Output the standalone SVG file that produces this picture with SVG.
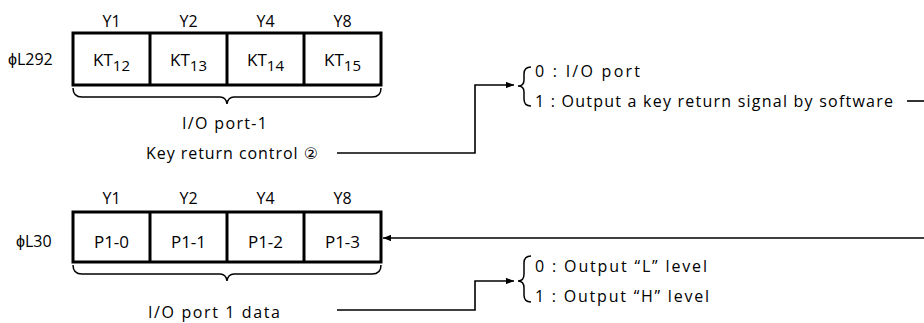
<svg xmlns="http://www.w3.org/2000/svg" width="924" height="323" viewBox="0 0 924 323">
<defs>
<style>
text{font-family:"Open Sans","Liberation Sans","DejaVu Sans",sans-serif;font-size:16px;fill:#000}
.c{text-anchor:middle}
.cell{font-size:17px}
.box{fill:#fff;stroke:#000;stroke-width:3}
.div{stroke:#000;stroke-width:3}
.br{fill:none;stroke:#000;stroke-width:1.5}
.ln{fill:none;stroke:#000;stroke-width:1.6}
.sub{font-size:15px}
</style>
<marker id="ah" viewBox="0 0 10 8" refX="10" refY="4" markerWidth="9" markerHeight="6.4" markerUnits="userSpaceOnUse" orient="auto"><path d="M0,0L10,4L0,8z" fill="#000"/></marker>
</defs>
<rect width="924" height="323" fill="#fff"/>

<g id="reg-L292">
<text x="8" y="65">ϕL292</text>
<text class="c" x="111.5" y="27">Y1</text>
<text class="c" x="188.5" y="27">Y2</text>
<text class="c" x="265.5" y="27">Y4</text>
<text class="c" x="342.5" y="27">Y8</text>
<rect class="box" x="73" y="33" width="308" height="52"/>
<line class="div" x1="150" y1="33" x2="150" y2="85"/>
<line class="div" x1="227" y1="33" x2="227" y2="85"/>
<line class="div" x1="304" y1="33" x2="304" y2="85"/>
<text class="c cell" x="111.5" y="66">KT<tspan class="sub" dy="5">12</tspan></text>
<text class="c cell" x="188.5" y="66">KT<tspan class="sub" dy="5">13</tspan></text>
<text class="c cell" x="265.5" y="66">KT<tspan class="sub" dy="5">14</tspan></text>
<text class="c cell" x="342.5" y="66">KT<tspan class="sub" dy="5">15</tspan></text>
<path class="br" d="M73,88 Q73,97 82,97 L220,97 Q226,97 227,104 Q228,97 234,97 L372,97 Q381,97 381,88"/>
<text x="182" y="129" textLength="85" lengthAdjust="spacing">I/O port-1</text>
<text x="146" y="159" textLength="172" lengthAdjust="spacing">Key return control ②</text>
</g>

<g id="opt-key">
<path class="br" d="M531,67 Q524,67 524,74 L524,80 Q524,86 518,86 Q524,86 524,92 L524,99 Q524,106 531,106"/>
<text x="535" y="77" textLength="105" lengthAdjust="spacing">0 : I/O port</text>
<text x="535" y="107" textLength="358" lengthAdjust="spacing">1 : Output a key return signal by software</text>
</g>

<g id="reg-L30">
<text x="16" y="247">ϕL30</text>
<text class="c" x="111.5" y="204">Y1</text>
<text class="c" x="188.5" y="204">Y2</text>
<text class="c" x="265.5" y="204">Y4</text>
<text class="c" x="342.5" y="204">Y8</text>
<rect class="box" x="73" y="212" width="308" height="50"/>
<line class="div" x1="150" y1="212" x2="150" y2="262"/>
<line class="div" x1="227" y1="212" x2="227" y2="262"/>
<line class="div" x1="304" y1="212" x2="304" y2="262"/>
<text class="c cell" x="111.5" y="248">P1-0</text>
<text class="c cell" x="188.5" y="248">P1-1</text>
<text class="c cell" x="265.5" y="248">P1-2</text>
<text class="c cell" x="342.5" y="248">P1-3</text>
<path class="br" d="M73,265 Q73,274 82,274 L220,274 Q226,274 227,281 Q228,274 234,274 L372,274 Q381,274 381,265"/>
<text x="148" y="318" textLength="132" lengthAdjust="spacing">I/O port 1 data</text>
</g>

<g id="opt-level">
<path class="br" d="M531,256 Q524,256 524,263 L524,274 Q524,281 518,281 Q524,281 524,288 L524,295 Q524,302 531,302"/>
<text x="535" y="272" textLength="172" lengthAdjust="spacing">0 : Output “L” level</text>
<text x="535" y="302" textLength="174" lengthAdjust="spacing">1 : Output “H” level</text>
</g>

<g id="connectors">
<path class="ln" d="M337,153 H475 V85 H514" marker-end="url(#ah)"/>
<path class="ln" d="M337,310 H475 V281 H514" marker-end="url(#ah)"/>
<path class="ln" d="M907,101 H924"/>
<path class="ln" d="M924,238 H383" marker-end="url(#ah)"/>
</g>
</svg>
